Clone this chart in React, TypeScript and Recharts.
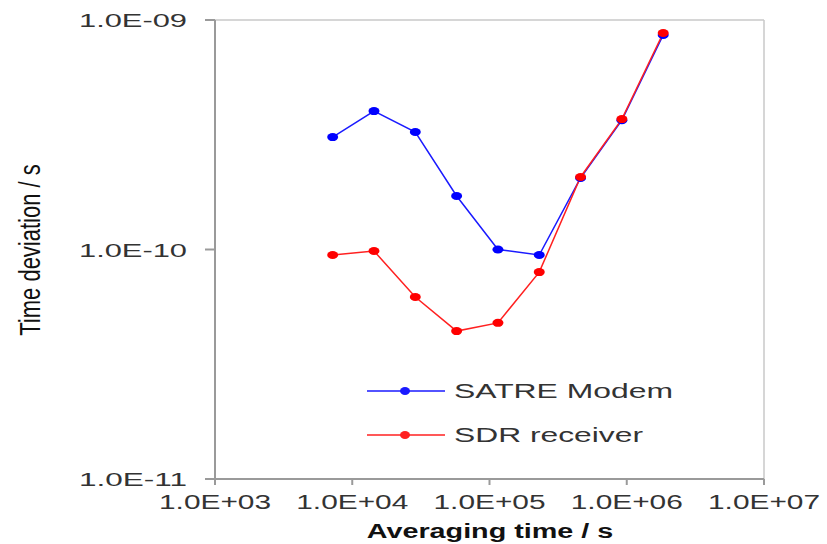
import { LineChart, Line, XAxis, YAxis, Legend, ReferenceLine } from "recharts"

// averaging times (s) and time deviation (s) for both receivers
const tau = [7200, 14400, 28800, 57600, 115200, 230400, 460800, 921600, 1843200]
const satreModem = [3.09e-10, 4.01e-10, 3.25e-10, 1.71e-10, 1.0e-10, 9.46e-11, 2.05e-10, 3.66e-10, 8.6e-10]
const sdrReceiver = [9.46e-11, 9.85e-11, 6.21e-11, 4.41e-11, 4.79e-11, 7.97e-11, 2.07e-10, 3.7e-10, 8.78e-10]

const xTicks = [1e3, 1e4, 1e5, 1e6, 1e7]
const yTicks = [1e-11, 1e-10, 1e-9]

const data = tau.map((t, i) => ({ tau: t, satre: satreModem[i], sdr: sdrReceiver[i] }))

const FONT = "'Liberation Sans', Arial, sans-serif"
const AXIS = "#9a9a9a"
const FRAME = "#c8c8c8"

const sci = (v: number) => {
  const e = Math.round(Math.log10(v))
  return `1.0E${e < 0 ? "-" : "+"}${String(Math.abs(e)).padStart(2, "0")}`
}

const XTick = ({ x, y, payload }: any) => (
  <text x={x} y={y} dy={15} textAnchor="middle" fontFamily={FONT} fontSize={20} fill="#333"
    textLength={112} lengthAdjust="spacingAndGlyphs">
    {sci(payload.value)}
  </text>
)

const YTick = ({ x, y, payload }: any) => (
  <text x={x} y={y} dy={7} textAnchor="end" fontFamily={FONT} fontSize={19} fill="#333"
    textLength={108} lengthAdjust="spacingAndGlyphs">
    {sci(payload.value)}
  </text>
)

const Marker = (color: string) => (props: any) => {
  const { cx, cy, index } = props
  if (cx == null || cy == null) return <g key={index} />
  return <ellipse key={index} cx={cx} cy={cy} rx={5.5} ry={4} fill={color} />
}

const LegendBox = ({ payload }: any) => (
  <svg width={330} height={80}>
    {(payload || []).map((p: any, i: number) => {
      const cy = 16 + i * 44
      return (
        <g key={p.value}>
          <line x1={0} x2={78} y1={cy} y2={cy} stroke={p.color} strokeWidth={1.5} />
          <ellipse cx={38} cy={cy} rx={5} ry={4} fill={p.color} />
          <text x={87} y={cy} dy={7} fontFamily={FONT} fontSize={20} fill="#333"
            textLength={i === 0 ? 219 : 189} lengthAdjust="spacingAndGlyphs">
            {p.value}
          </text>
        </g>
      )
    })}
  </svg>
)

export default function App() {
  return (
    <div style={{ position: "absolute", left: 0, top: 0, background: "#fff" }}>
      <LineChart width={827} height={544} data={data} margin={{ top: 20, right: 63, left: 0, bottom: 0 }}>
        <XAxis
          dataKey="tau"
          type="number"
          scale="log"
          domain={[1e3, 1e7]}
          ticks={xTicks}
          allowDataOverflow
          height={65}
          stroke={AXIS}
          strokeWidth={2}
          tickSize={6}
          tickMargin={9}
          tick={<XTick />}
          label={{
            content: () => (
              <text transform="translate(490,538) scale(1.37,1)" textAnchor="middle" fontFamily={FONT}
                fontSize={21} fontWeight="bold" fill="#111">
                Averaging time / s
              </text>
            ),
          }}
        />
        <YAxis
          type="number"
          scale="log"
          domain={[1e-11, 1e-9]}
          ticks={yTicks}
          allowDataOverflow
          width={215}
          stroke={AXIS}
          strokeWidth={2}
          tickSize={10}
          tickMargin={18}
          tick={<YTick />}
          label={{
            content: () => (
              <text transform="translate(30,250) rotate(-90) scale(1,1.38)" textAnchor="middle"
                dominantBaseline="central" fontFamily={FONT} fontSize={22} fill="#111">
                Time deviation / s
              </text>
            ),
          }}
        />
        <ReferenceLine y={1e-9} stroke={FRAME} strokeWidth={1.5} ifOverflow="visible" />
        <ReferenceLine x={1e7} stroke={FRAME} strokeWidth={1.5} ifOverflow="visible" />
        <Legend
          layout="vertical"
          align="center"
          verticalAlign="middle"
          wrapperStyle={{ left: 367, top: 375, width: 330 }}
          content={<LegendBox />}
        />
        <Line
          dataKey="satre"
          name="SATRE Modem"
          type="linear"
          stroke="#1a1aff"
          strokeWidth={1.5}
          dot={Marker("#0000ff")}
          activeDot={false}
          isAnimationActive={false}
        />
        <Line
          dataKey="sdr"
          name="SDR receiver"
          type="linear"
          stroke="#ff2020"
          strokeWidth={1.5}
          dot={Marker("#ff0000")}
          activeDot={false}
          isAnimationActive={false}
        />
      </LineChart>
    </div>
  )
}
